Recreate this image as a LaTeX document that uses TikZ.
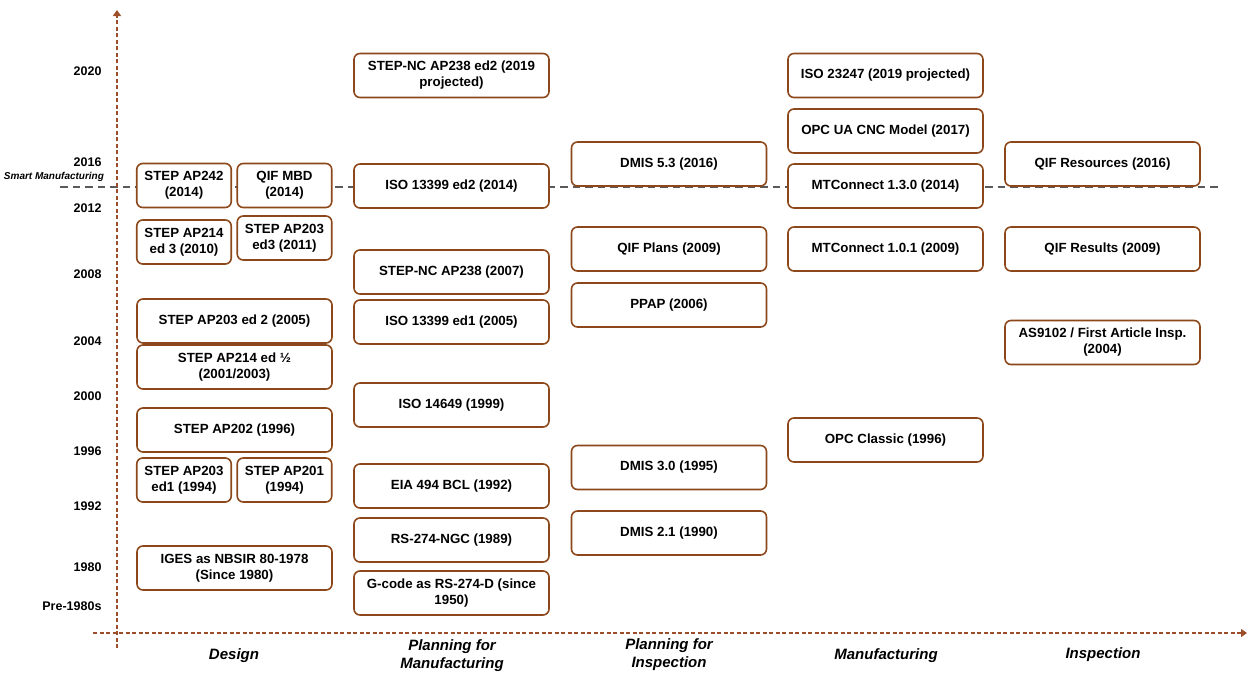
\documentclass[tikz,border=0pt]{standalone}
\usepackage{fontspec}
\setmainfont{Liberation Sans}
\usetikzlibrary{arrows.meta}
\definecolor{boxbrown}{RGB}{140,72,26}
\definecolor{axisbrown}{RGB}{156,78,40}
\definecolor{smartgray}{RGB}{90,90,90}
\begin{document}
\begin{tikzpicture}[
x=1pt, y=-1pt,
stdbox/.style={rectangle, rounded corners=6pt, draw=boxbrown, fill=white, line width=1.6pt, minimum width=195pt, minimum height=44pt, inner sep=2pt, align=center, font=\bfseries\fontsize{13.3}{16}\selectfont},
halfbox/.style={stdbox, minimum width=94.5pt},
axis/.style={draw=axisbrown, line width=2.2pt, dash pattern=on 4pt off 2.5pt, -{Triangle[width=8pt,length=6pt]}},
year/.style={anchor=east, font=\bfseries\fontsize{12.5}{14}\selectfont},
column/.style={align=center, font=\bfseries\itshape\fontsize{15}{17.5}\selectfont},
]
\useasboundingbox (0,0) rectangle (1252,675);
\coordinate (smartL) at (60,187);
\coordinate (smartR) at (1221,187);
\draw[smartgray, line width=1.5pt, dash pattern=on 7.5pt off 5pt] (smartL) -- (smartR);
\coordinate (yaxisS) at (117,648);
\coordinate (yaxisE) at (117,10);
\coordinate (xaxisS) at (93,633);
\coordinate (xaxisE) at (1247,633);
\draw[axis] (yaxisS) -- (yaxisE);
\draw[axis] (xaxisS) -- (xaxisE);
\node[year] (y2020) at (105,71) {2020};
\node[year] (y2016) at (105,162) {2016};
\node[anchor=east, font=\bfseries\itshape\fontsize{10}{12}\selectfont] (smart) at (107.5,177) {Smart Manufacturing};
\node[year] (y2012) at (105,208) {2012};
\node[year] (y2008) at (105,274) {2008};
\node[year] (y2004) at (105,341) {2004};
\node[year] (y2000) at (105,396) {2000};
\node[year] (y1996) at (105,451) {1996};
\node[year] (y1992) at (105,506) {1992};
\node[year] (y1980) at (105,567) {1980};
\node[year] (ypre) at (105,606) {Pre-1980s};
\node[column] (design) at (234,656) {Design};
\node[column] (planmfg) at (452,655.5) {Planning for\\Manufacturing};
\node[column] (planinsp) at (669,654.5) {Planning for\\Inspection};
\node[column] (mfg) at (886,656) {Manufacturing};
\node[column] (insp) at (1103,655) {Inspection};
\node[halfbox] (ap242) at (184,185.5) {STEP AP242\\(2014)};
\node[halfbox] (qifmbd) at (284.5,185.5) {QIF MBD\\(2014)};
\node[halfbox] (ap214c) at (184,242) {STEP AP214\\ed 3 (2010)};
\node[halfbox] (ap203c) at (284.5,238) {STEP AP203\\ed3 (2011)};
\node[stdbox] (ap203b) at (234.5,321) {STEP AP203 ed 2 (2005)};
\node[stdbox] (ap214a) at (234.5,367) {STEP AP214 ed ½\\(2001/2003)};
\node[stdbox] (ap202) at (234.5,430) {STEP AP202 (1996)};
\node[halfbox] (ap203a) at (184,480) {STEP AP203\\ed1 (1994)};
\node[halfbox] (ap201) at (284.5,480) {STEP AP201\\(1994)};
\node[stdbox] (iges) at (234.5,568) {IGES as NBSIR 80-1978\\(Since 1980)};
\node[stdbox] (stepncb) at (451.5,75.5) {STEP-NC AP238 ed2 (2019\\projected)};
\node[stdbox] (isob) at (451.5,186) {ISO 13399 ed2 (2014)};
\node[stdbox] (stepnca) at (451.5,272) {STEP-NC AP238 (2007)};
\node[stdbox] (isoa) at (451.5,322) {ISO 13399 ed1 (2005)};
\node[stdbox] (iso14649) at (451.5,405) {ISO 14649 (1999)};
\node[stdbox] (eia) at (451.5,486) {EIA 494 BCL (1992)};
\node[stdbox] (rsngc) at (451.5,540) {RS-274-NGC (1989)};
\node[stdbox] (gcode) at (451.5,593) {G-code as RS-274-D (since\\1950)};
\node[stdbox] (dmisc) at (669,164) {DMIS 5.3 (2016)};
\node[stdbox] (qifplans) at (669,249) {QIF Plans (2009)};
\node[stdbox] (ppap) at (669,305) {PPAP (2006)};
\node[stdbox] (dmisb) at (669,467.5) {DMIS 3.0 (1995)};
\node[stdbox] (dmisa) at (669,533) {DMIS 2.1 (1990)};
\node[stdbox] (iso23247) at (885.5,75.5) {ISO 23247 (2019 projected)};
\node[stdbox] (opcua) at (885.5,131) {OPC UA CNC Model (2017)};
\node[stdbox] (mtcb) at (885.5,186) {MTConnect 1.3.0 (2014)};
\node[stdbox] (mtca) at (885.5,249) {MTConnect 1.0.1 (2009)};
\node[stdbox] (opcc) at (885.5,440) {OPC Classic (1996)};
\node[stdbox] (qifres) at (1102.5,164) {QIF Resources (2016)};
\node[stdbox] (qifresults) at (1102.5,249) {QIF Results (2009)};
\node[stdbox] (as9102) at (1102.5,342.5) {AS9102 / First Article Insp.\\(2004)};
\end{tikzpicture}
\end{document}
